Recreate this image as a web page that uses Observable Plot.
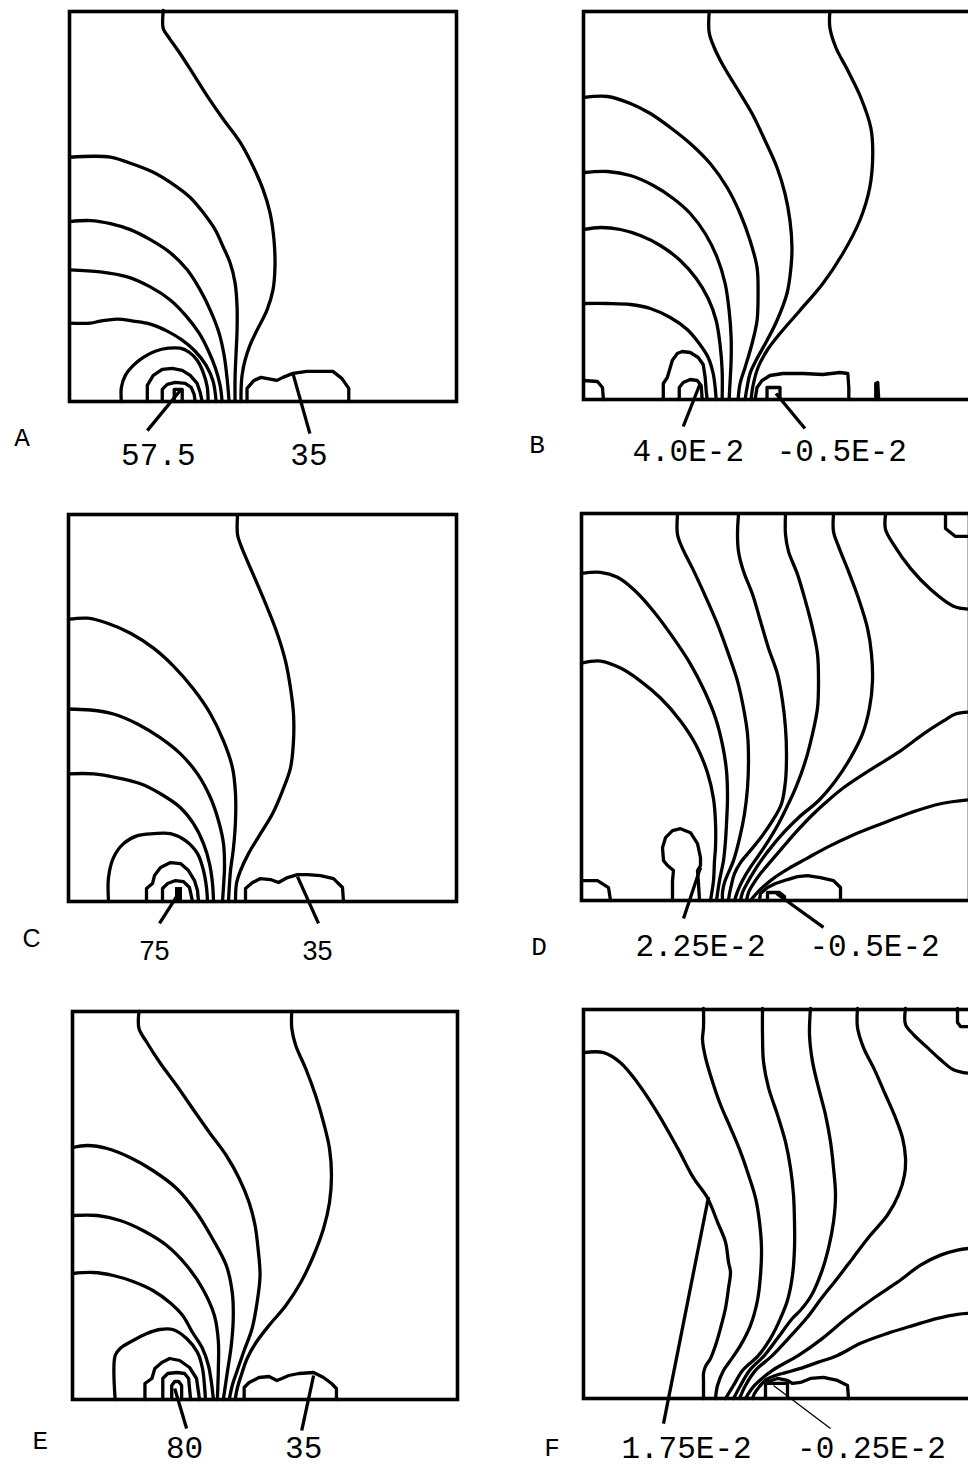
<!DOCTYPE html>
<html>
<head>
<meta charset="utf-8">
<script src="https://cdn.jsdelivr.net/npm/d3@7"></script>
<script src="https://cdn.jsdelivr.net/npm/@observablehq/plot@0.6"></script>
<style>
  html, body { margin: 0; padding: 0; background: #fff; overflow: hidden; }
  #chart { position: relative; width: 968px; height: 1466px; overflow: hidden; background: #fff; }
  #chart svg { position: absolute; }
</style>
</head>
<body>
<div id="chart"></div>
<script>
// Every panel shares one grid (x across, y up from the floor), in grid units.
const GRID = [0, 388];
const letters = ["A", "B", "C", "D", "E", "F"];

// ---------- Panel A ----------
const isolinesA = [
  [[94,389],[94,371],[99,363],[111,346],[124,326],[138,304],[154,281],[171,258],[184,234],[194,211],[201,188],[205,161],[206,134],[204,111],[198,91],[188,71],[181,56],[176,41],[173,26],[172,11],[172,0]],
  [[0,243],[24,244],[41,243],[64,236],[84,228],[104,216],[121,203],[134,188],[146,171],[154,154],[161,138],[166,118],[168,94],[168,71],[167,48],[166,24],[166,0]],
  [[0,179],[21,180],[41,177],[61,171],[81,161],[101,148],[118,131],[131,111],[142,89],[150,68],[155,46],[158,23],[160,0]],
  [[0,131],[31,129],[58,124],[81,114],[101,101],[117,85],[130,68],[139,51],[146,34],[151,16],[153,0]],
  [[0,78],[21,78],[31,80],[48,82],[64,80],[81,77],[98,70],[113,61],[126,50],[137,36],[144,20],[147,0]],
  [[52,0],[52,14],[56,26],[64,36],[74,44],[86,50],[99,53],[111,53],[120,49],[128,41],[134,29],[138,15],[139,0]]
];
const loopsA = [
  [[78,0],[78,16],[84,26],[93,32],[103,33],[113,31],[121,26],[128,18],[131,9],[133,0]],
  [[93,0],[93,12],[98,17],[106,19],[116,18],[122,14],[125,7],[126,0]],
  [[105,0],[105,12],[113,12],[113,0]],
  [[178,0],[178,13],[185,21],[192,24],[208,21],[214,24],[224,28],[238,30],[264,30],[273,23],[280,13],[280,0]]
];
const calloutsA = [
  {label: "57.5", x0: 111, y0: 11, x1: 78, y1: -29, tx: 89, ty: -63},
  {label: "35", x0: 224, y0: 28, x1: 241, y1: -32, tx: 240, ty: -63}
];

// ---------- Panel B ----------
const isolinesB = [
  [[247,388],[247,372],[253,352],[265,329],[278,302],[288,272],[290,246],[287,212],[277,179],[260,146],[240,116],[217,89],[197,66],[184,49],[175,32],[170,14],[168,0]],
  [[126,388],[126,367],[131,352],[140,334],[154,311],[169,286],[182,259],[194,232],[202,206],[207,179],[209,152],[208,132],[204,106],[194,79],[184,59],[174,41],[167,26],[164,12],[162,0]],
  [[0,302],[24,303],[47,296],[67,286],[87,272],[107,256],[127,236],[144,212],[157,186],[167,159],[174,132],[175,106],[174,79],[169,56],[162,32],[157,16],[155,0]],
  [[0,227],[24,228],[47,224],[70,214],[90,201],[107,186],[122,166],[134,142],[142,116],[146,89],[148,62],[148,39],[147,19],[146,0]],
  [[0,170],[17,172],[37,170],[57,164],[77,154],[97,139],[113,121],[125,101],[133,79],[137,54],[139,29],[139,0]],
  [[0,96],[24,96],[47,95],[67,91],[87,82],[104,70],[116,56],[125,42],[130,26],[132,12],[133,0]]
];
const loopsB = [
  [[0,19],[14,18],[19,12],[20,0]],
  [[80,0],[80,16],[84,22],[87,32],[89,39],[94,46],[99,48],[107,47],[115,42],[120,35],[122,22],[123,9],[124,0]],
  [[96,0],[96,12],[100,17],[107,20],[114,19],[118,14],[119,0]],
  [[172,0],[174,12],[179,19],[187,24],[200,26],[220,26],[240,25],[257,27],[265,26],[266,12],[266,0]],
  [[184,0],[184,12],[197,12],[197,0]],
  [[293,0],[293,16],[295,17],[296,0]]
];
const calloutsB = [
  {label: "4.0E-2", x0: 117, y0: 16, x1: 100, y1: -27, tx: 105, ty: -61},
  {label: "-0.5E-2", x0: 193, y0: 6, x1: 222, y1: -29, tx: 259, ty: -61}
];

// ---------- Panel C ----------
const isolinesC = [
  [[169,387],[169,368],[172,358],[179,341],[189,318],[199,294],[209,268],[217,241],[222,214],[225,188],[225,161],[222,134],[214,111],[204,88],[192,68],[180,48],[172,31],[168,18],[167,0]],
  [[0,283],[19,284],[39,279],[62,269],[85,254],[105,236],[125,213],[142,188],[155,161],[164,134],[167,108],[167,81],[165,54],[162,31],[161,18],[160,0]],
  [[0,193],[22,192],[45,188],[69,178],[92,164],[112,148],[129,128],[142,104],[150,81],[155,58],[156,34],[155,15],[154,0]],
  [[0,128],[25,128],[49,124],[72,118],[92,108],[112,94],[125,78],[135,58],[141,38],[144,18],[145,0]],
  [[40,0],[40,24],[45,44],[55,58],[69,66],[85,68],[102,68],[117,61],[129,48],[135,31],[138,14],[139,0]]
];
const loopsC = [
  [[78,0],[78,13],[84,18],[86,26],[92,34],[102,39],[112,38],[120,31],[126,21],[129,11],[130,0]],
  [[94,0],[94,13],[99,18],[107,21],[115,20],[121,14],[124,0]],
  [[177,0],[177,13],[184,19],[192,23],[202,22],[210,19],[219,24],[229,27],[239,27],[252,26],[265,23],[274,14],[275,0]]
];
const peakCellsC = [{x1: 107, x2: 114, y1: 0, y2: 14}];
const calloutsC = [
  {label: "75", x0: 110, y0: 8, x1: 91, y1: -22, tx: 86, ty: -59},
  {label: "35", x0: 229, y0: 25, x1: 250, y1: -22, tx: 249, ty: -59}
];

// ---------- Panel D ----------
const isolinesD = [
  [[0,238],[19,240],[39,233],[59,220],[79,203],[99,180],[115,155],[126,128],[132,102],[134,78],[134,53],[133,40],[132,20],[129,0]],
  [[0,328],[19,329],[36,324],[53,311],[72,290],[92,263],[109,237],[123,210],[134,183],[141,156],[145,130],[146,103],[145,77],[144,60],[142,40],[138,20],[135,0]],
  [[96,387],[96,367],[101,353],[111,333],[123,307],[136,277],[147,247],[156,220],[162,193],[166,167],[167,140],[166,113],[163,87],[158,62],[152,40],[147,28],[143,18],[141,8],[141,0]],
  [[157,387],[156,367],[157,350],[162,330],[171,307],[179,280],[187,253],[196,227],[201,200],[204,173],[205,147],[204,120],[200,97],[191,80],[180,64],[168,49],[159,38],[153,27],[150,16],[148,7],[147,0]],
  [[204,387],[204,367],[207,350],[216,327],[224,300],[231,273],[236,247],[237,220],[236,193],[231,167],[224,140],[215,115],[206,95],[197,77],[187,60],[177,45],[168,32],[161,20],[156,9],[153,0]],
  [[252,387],[252,370],[257,355],[267,330],[277,303],[286,273],[290,247],[291,220],[288,193],[281,167],[269,143],[254,120],[237,100],[218,84],[203,69],[191,55],[181,42],[173,30],[166,18],[161,8],[159,0]],
  [[388,189],[374,187],[362,180],[342,167],[319,150],[292,133],[262,113],[244,98],[229,84],[214,68],[201,53],[189,39],[179,27],[172,17],[167,8],[165,0]],
  [[388,101],[359,97],[329,88],[300,77],[270,65],[245,53],[225,42],[207,32],[193,23],[182,14],[174,6],[169,0]],
  [[304,387],[304,372],[312,357],[329,333],[349,312],[372,295],[388,292]]
];
const loopsD = [
  [[364,387],[364,373],[374,365],[388,365]],
  [[0,20],[16,20],[27,13],[29,0]],
  [[91,0],[91,20],[92,30],[86,35],[82,40],[81,53],[84,63],[91,70],[99,72],[109,68],[116,57],[119,43],[119,35],[116,30],[117,17],[118,0]],
  [[178,0],[179,7],[186,13],[194,17],[206,21],[216,24],[226,25],[239,23],[252,20],[259,13],[259,0]],
  [[186,0],[186,8],[198,8],[203,4],[203,0]]
];
const calloutsD = [
  {label: "2.25E-2", x0: 119, y0: 33, x1: 102, y1: -18, tx: 119, ty: -56},
  {label: "-0.5E-2", x0: 195, y0: 7, x1: 242, y1: -27, tx: 293, ty: -56}
];

// ---------- Panel E ----------
const isolinesE = [
  [[221,388],[221,371],[225,354],[235,331],[245,304],[253,277],[259,251],[261,224],[259,197],[253,171],[243,144],[230,117],[215,94],[198,74],[185,57],[176,41],[170,24],[166,11],[164,0]],
  [[67,388],[67,371],[75,357],[88,337],[105,314],[121,291],[138,267],[155,244],[168,221],[178,197],[184,174],[187,151],[189,124],[186,97],[181,71],[173,49],[166,29],[161,14],[158,0]],
  [[0,252],[15,254],[35,251],[58,242],[81,229],[105,211],[125,187],[141,161],[155,134],[161,107],[162,81],[160,54],[156,27],[152,0]],
  [[0,184],[25,184],[48,179],[71,169],[95,154],[115,134],[131,111],[143,84],[147,58],[147,31],[146,0]],
  [[0,126],[21,127],[41,124],[61,118],[81,109],[98,97],[111,84],[121,67],[131,51],[137,34],[140,17],[142,0]],
  [[43,0],[43,44],[48,51],[61,59],[75,66],[88,70],[101,70],[115,61],[126,47],[131,31],[133,14],[134,0]]
];
const loopsE = [
  [[73,0],[73,16],[80,21],[83,31],[90,37],[98,41],[108,39],[118,32],[125,21],[128,0]],
  [[91,0],[91,21],[96,26],[105,27],[113,26],[117,21],[119,0]],
  [[100,0],[100,14],[103,18],[107,18],[110,14],[110,0]],
  [[173,0],[173,12],[178,17],[188,22],[198,23],[206,19],[211,21],[218,24],[228,26],[243,27],[253,22],[261,16],[266,11],[266,0]]
];
const calloutsE = [
  {label: "80", x0: 103, y0: 11, x1: 115, y1: -29, tx: 113, ty: -58},
  {label: "35", x0: 243, y0: 24, x1: 231, y1: -31, tx: 233, ty: -58}
];

// ---------- Panel F ----------
const isolinesF = [
  [[0,345],[20,345],[37,335],[54,315],[74,285],[94,250],[110,220],[124,200],[134,176],[142,156],[145,136],[147,126],[145,110],[142,90],[137,70],[132,53],[127,40],[122,32],[120,25],[120,18],[120,0]],
  [[120,389],[120,370],[119,358],[122,340],[129,316],[137,293],[147,270],[157,246],[165,223],[172,200],[176,176],[178,150],[177,123],[174,98],[167,73],[157,53],[147,38],[140,28],[134,13],[132,0]],
  [[179,389],[179,363],[180,336],[185,310],[194,283],[202,256],[207,230],[210,203],[211,176],[211,150],[209,123],[204,98],[197,80],[187,60],[175,43],[159,28],[150,13],[142,0]],
  [[227,389],[226,363],[229,336],[235,310],[242,283],[247,256],[250,230],[252,203],[250,176],[245,150],[238,126],[228,103],[217,88],[209,80],[194,60],[181,43],[166,28],[157,13],[150,0]],
  [[274,389],[274,370],[280,350],[290,330],[302,303],[312,280],[319,260],[322,240],[321,223],[315,203],[304,183],[287,163],[270,141],[254,120],[238,100],[223,80],[205,60],[189,43],[172,28],[162,13],[156,0]],
  [[388,150],[374,148],[357,143],[337,133],[314,116],[290,100],[263,80],[239,60],[215,43],[189,28],[171,13],[162,0]],
  [[388,85],[374,84],[354,80],[330,73],[304,65],[277,55],[254,43],[234,36],[217,30],[203,26],[192,23],[183,19],[176,12],[171,5],[169,0]],
  [[322,389],[322,373],[330,363],[344,350],[357,338],[370,328],[388,324]]
];
const loopsF = [
  [[374,389],[374,375],[377,371],[388,371]],
  [[182,0],[182,15],[204,15],[204,0]],
  [[182,15],[185,17],[194,20],[204,18],[209,15],[217,16],[227,20],[240,21],[254,18],[264,13],[265,0]]
];
const calloutsF = [
  {label: "1.75E-2", x0: 125, y0: 201, x1: 80, y1: -25, tx: 103, ty: -59}
];
const hairlinesF = [
  {label: "-0.25E-2", x0: 190, y0: 13, x1: 247, y1: -30, tx: 288, ty: -59}
];

// Panel letter anchors, in grid units (left of and below each frame).
const letterSpots = [
  {x: -47.5, y: -44}, {x: -46.5, y: -53}, {x: -37, y: -46},
  {x: -42.5, y: -55}, {x: -32.5, y: -49}, {x: -31.5, y: -57}
];

// ---------- Page layout (pixels) ----------
const frames = [
  {left: 69,  top: 11,   w: 387, h: 390, svgLeft: 0},
  {left: 583, top: 11,   w: 387, h: 388, svgLeft: 490},
  {left: 68,  top: 514,  w: 388, h: 387, svgLeft: 0},
  {left: 581, top: 513,  w: 388, h: 387, svgLeft: 490},
  {left: 72,  top: 1011, w: 385, h: 388, svgLeft: 0},
  {left: 583, top: 1009, w: 388, h: 389, svgLeft: 490}
];

const MONO = "'Liberation Mono', 'DejaVu Sans Mono', monospace";
const SANS = "'Liberation Sans', Arial, sans-serif";

const panels = [
  {isolines: isolinesA, loops: loopsA, callouts: calloutsA},
  {isolines: isolinesB, loops: loopsB, callouts: calloutsB},
  {isolines: isolinesC, loops: loopsC, callouts: calloutsC, cells: peakCellsC, font: SANS, numberSize: 27, letterSize: 25},
  {isolines: isolinesD, loops: loopsD, callouts: calloutsD},
  {isolines: isolinesE, loops: loopsE, callouts: calloutsE},
  {isolines: isolinesF, loops: loopsF, callouts: calloutsF, hairlines: hairlinesF}
];

const toRows = (lines) => lines.flatMap((pts, id) => pts.map(([x, y]) => ({id, x, y})));

const chart = document.getElementById("chart");
const LINE = 3.3;

panels.forEach((p, i) => {
  const f = frames[i];
  const font = p.font || MONO;
  const numberSize = p.numberSize || 31;
  const letterSize = p.letterSize || 26;
  const mt = 4, mr = 6, mb = 72;
  const ml = f.left - f.svgLeft;

  const svg = Plot.plot({
    width: ml + f.w + mr,
    height: mt + f.h + mb,
    marginLeft: ml, marginRight: mr, marginTop: mt, marginBottom: mb,
    x: {domain: GRID, axis: null},
    y: {domain: GRID, axis: null},
    style: {background: "transparent", overflow: "visible"},
    marks: [
      Plot.frame({stroke: "black", strokeWidth: 3.6}),
      Plot.line(toRows(p.isolines), {x: "x", y: "y", z: "id", curve: "catmull-rom", stroke: "black", strokeWidth: LINE}),
      Plot.line(toRows(p.loops), {x: "x", y: "y", z: "id", curve: "linear", stroke: "black", strokeWidth: LINE}),
      Plot.rect(p.cells || [], {x1: "x1", x2: "x2", y1: "y1", y2: "y2", fill: "black"}),
      Plot.link(p.callouts, {x1: "x0", y1: "y0", x2: "x1", y2: "y1", stroke: "black", strokeWidth: LINE}),
      Plot.link(p.hairlines || [], {x1: "x0", y1: "y0", x2: "x1", y2: "y1", stroke: "black", strokeWidth: 1.3}),
      Plot.text([...p.callouts, ...(p.hairlines || [])], {
        x: "tx", y: "ty", text: "label", textAnchor: "middle", lineAnchor: "bottom",
        fontFamily: font, fontSize: numberSize, fill: "black"
      }),
      Plot.text([letterSpots[i]], {
        x: "x", y: "y", text: () => letters[i], textAnchor: "middle", lineAnchor: "bottom",
        fontFamily: font, fontSize: letterSize, fill: "black"
      })
    ]
  });
  svg.style.left = f.svgLeft + "px";
  svg.style.top = (f.top - mt) + "px";
  chart.appendChild(svg);
});
</script>
</body>
</html>
